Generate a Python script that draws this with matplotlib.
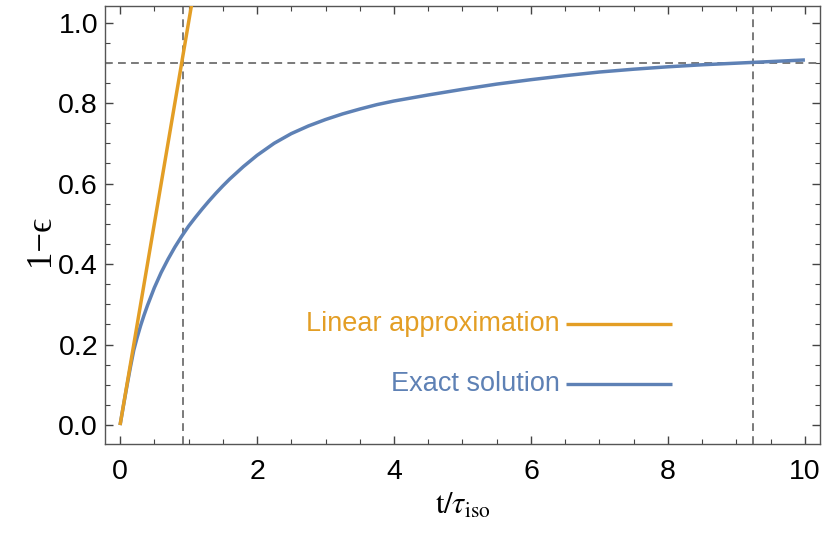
import numpy as np
import matplotlib.pyplot as plt
from matplotlib.ticker import MultipleLocator

plt.rcParams['font.family'] = ['Liberation Sans', 'DejaVu Sans']
plt.rcParams['mathtext.fontset'] = 'stix'

# exact solution
t_exact = [0.0, 0.05, 0.1, 0.15, 0.2, 0.25, 0.3, 0.35, 0.4, 0.5, 0.6, 0.7,
           0.8, 0.9, 1.0, 1.1, 1.2, 1.3, 1.4, 1.5, 1.6, 1.8, 2.0, 2.25, 2.5,
           2.75, 3.0, 3.25, 3.5, 3.75, 4.0, 4.5, 5.0, 5.5, 6.0, 6.5, 7.0, 7.5,
           8.0, 8.5, 9.0, 9.5, 10.0]
v_exact = [0.0, 0.049, 0.097, 0.143, 0.186, 0.218, 0.247, 0.273, 0.297,
           0.341, 0.379, 0.412, 0.442, 0.469, 0.494, 0.516, 0.537, 0.557,
           0.576, 0.594, 0.611, 0.642, 0.670, 0.700, 0.724, 0.743, 0.759,
           0.773, 0.785, 0.796, 0.805, 0.820, 0.834, 0.847, 0.858, 0.868,
           0.877, 0.884, 0.890, 0.895, 0.899, 0.903, 0.907]

# linear approximation
t_lin = [0.0, 1.1]
v_lin = [0.0, 1.1]

# reference lines
t_marks = [0.915, 9.24]
v_mark = 0.9

orange = '#E39E25'
blue = '#5E81B5'
gray = '#7a7a7a'

fig = plt.figure(figsize=(8.26, 5.36), dpi=100)
ax = fig.add_axes([105 / 826, 1 - 444 / 536, 715 / 826, 438 / 536])

ax.plot(t_exact, v_exact, color=blue, lw=2.5, solid_capstyle='butt',
        solid_joinstyle='round', zorder=3)
ax.plot(t_lin, v_lin, color=orange, lw=2.5, solid_capstyle='butt', zorder=4)

for tm in t_marks:
    ax.axvline(tm, color=gray, lw=1.4, dashes=(4, 2.7), zorder=2)
ax.axhline(v_mark, color=gray, lw=1.4, dashes=(4, 2.7), zorder=2)

# legend drawn inside the plot
ax.plot([6.51, 8.06], [0.25, 0.25], color=orange, lw=2.4, solid_capstyle='butt')
ax.plot([6.51, 8.06], [0.101, 0.101], color=blue, lw=2.4, solid_capstyle='butt')
ax.text(6.42, 0.25, 'Linear approximation', color=orange, fontsize=19.5,
        ha='right', va='center')
ax.text(6.42, 0.101, 'Exact solution', color=blue, fontsize=19.5,
        ha='right', va='center')

ax.set_xlim(-0.22, 10.22)
ax.set_ylim(-0.047, 1.041)
ax.xaxis.set_major_locator(MultipleLocator(2))
ax.xaxis.set_minor_locator(MultipleLocator(0.5))
ax.yaxis.set_major_locator(MultipleLocator(0.2))
ax.yaxis.set_minor_locator(MultipleLocator(0.05))
ax.xaxis.set_major_formatter(plt.FuncFormatter(lambda v, p: '%d' % v))
ax.yaxis.set_major_formatter(plt.FuncFormatter(lambda v, p: '%.1f' % v))

ax.tick_params(which='both', direction='in', top=True, right=True,
               color='#444444', labelsize=20.5)
ax.tick_params(which='major', length=6, width=1)
ax.tick_params(which='minor', length=3.5, width=0.8)
ax.tick_params(axis='x', pad=11)
ax.tick_params(axis='y', pad=5)
for s in ax.spines.values():
    s.set_color('#555555')
    s.set_linewidth(1)

ax.set_xlabel(r'$\mathrm{t}/\tau_{\mathrm{iso}}$', fontsize=22, labelpad=4)
fig.text(40 / 826, 1 - 240 / 536, '1\u2212\u03f5', rotation=90, fontsize=25,
         family=['Liberation Serif', 'DejaVu Serif'], ha='center', va='center')

plt.savefig('out.png', dpi=100)
